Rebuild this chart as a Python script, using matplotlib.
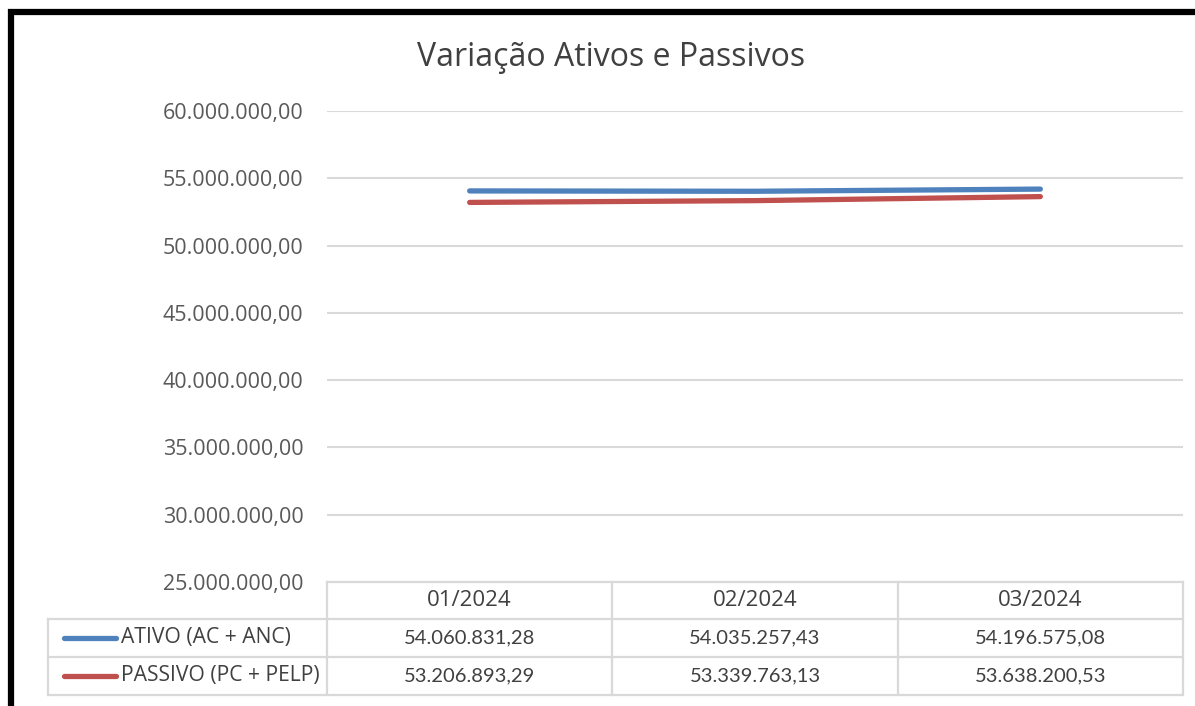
import matplotlib.pyplot as plt
from matplotlib.lines import Line2D
from matplotlib.ticker import FuncFormatter

meses = ["01/2024", "02/2024", "03/2024"]
ativo = [54060831.28, 54035257.43, 54196575.08]
passivo = [53206893.29, 53339763.13, 53638200.53]
series = ["ATIVO (AC + ANC)", "PASSIVO (PC + PELP)"]
cores = ["#4F81BD", "#C0504D"]

plt.rcParams['font.family'] = ['Open Sans', 'DejaVu Sans']
num_font = ['Lato', 'DejaVu Sans']

W, H = 1195, 706


def br(v, pos=None):
    s = f"{v:,.2f}"
    return s.replace(",", "X").replace(".", ",").replace("X", ".")


def fx(px):
    return px / W


def fy(py):
    return 1 - py / H


fig = plt.figure(figsize=(W / 100, H / 100), dpi=100)
left, right, top, bottom = 327, 1183, 111, 582
ax = fig.add_axes([fx(left), fy(bottom), fx(right - left), (bottom - top) / H])

x = range(len(meses))
for vals, cor in zip([ativo, passivo], cores):
    ax.plot(x, vals, color=cor, lw=3.8, solid_capstyle='round')

ax.set_xlim(-0.5, len(meses) - 0.5)
ax.set_ylim(25000000, 60000000)
ax.set_yticks(range(25000000, 60000001, 5000000))
ax.yaxis.set_major_formatter(FuncFormatter(br))
ax.set_xticks([])
ax.tick_params(axis='y', length=0, pad=17, labelsize=15.5, labelcolor='#595959')
ax.grid(axis='y', color='#d9d9d9', lw=1.5)
for s in ax.spines.values():
    s.set_visible(False)

fig.text(fx(611), fy(58), "Variação Ativos e Passivos", ha='center', va='center',
         fontsize=23, color='#404040')

# tabela de dados
grey = '#d9d9d9'
col_w = (right - left) / len(meses)
rows = [582, 619, 657, 695]
leg_left = 48


def hline(x0, x1, y):
    fig.add_artist(Line2D([fx(x0), fx(x1)], [fy(y), fy(y)], color=grey, lw=1.6))


def vline(xp, y0, y1):
    fig.add_artist(Line2D([fx(xp), fx(xp)], [fy(y0), fy(y1)], color=grey, lw=1.6))


hline(left, right, rows[0])
for r in rows[1:]:
    hline(leg_left, right, r)
vline(leg_left, rows[1], rows[3])
for i in range(len(meses) + 1):
    vline(left + i * col_w, rows[0], rows[3])

for i, m in enumerate(meses):
    fig.text(fx(left + (i + 0.5) * col_w), fy((rows[0] + rows[1]) / 2), m,
             ha='center', va='center', fontsize=16, color='#404040')

for j, (nome, vals, cor) in enumerate(zip(series, [ativo, passivo], cores)):
    yc = (rows[j + 1] + rows[j + 2]) / 2
    fig.add_artist(Line2D([fx(64), fx(116)], [fy(yc), fy(yc)], color=cor, lw=3.8,
                          solid_capstyle='round'))
    fig.text(fx(121), fy(yc), nome, ha='left', va='center', fontsize=15.2, color='#404040')
    for i, v in enumerate(vals):
        fig.text(fx(left + (i + 0.5) * col_w), fy(yc), br(v), family=num_font,
                 ha='center', va='center', fontsize=14.5, color='#404040')

# moldura preta da captura
fig.add_artist(Line2D([fx(11), fx(11), fx(W)], [0, fy(12), fy(12)], color='black', lw=4.5,
                      solid_joinstyle='miter'))

fig.savefig("out.png", dpi=100)
